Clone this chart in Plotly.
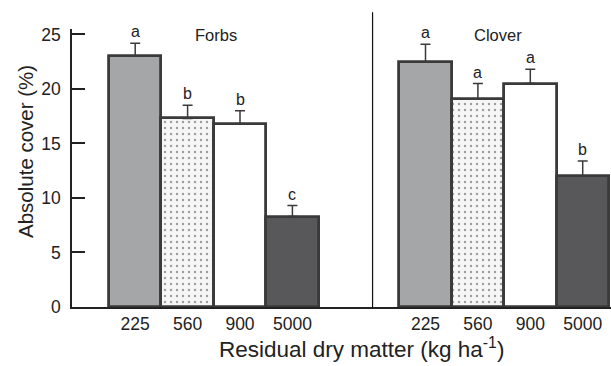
import plotly.graph_objects as go

categories = ["225", "560", "900", "5000"]
groups = ["Forbs", "Clover"]
forbs_values = [23.0, 17.3, 16.8, 8.3]
forbs_errors = [1.2, 1.2, 1.2, 1.0]
forbs_letters = ["a", "b", "b", "c"]
clover_values = [22.5, 19.1, 20.5, 12.0]
clover_errors = [1.6, 1.4, 1.3, 1.4]
clover_letters = ["a", "a", "a", "b"]

fills = ["#a5a6a8", "#f6f6f6", "#ffffff", "#58585a"]
patterns = ["", ".", "", ""]
outline = "#3a3a3a"

group_offsets = [1.0, 6.54]
title_shift = [0.55, 0.38]
group_values = [forbs_values, clover_values]
group_errors = [forbs_errors, clover_errors]
group_letters = [forbs_letters, clover_letters]

W, H = 611, 366
ML, MR, MT, MB = 72, 0, 29, 59

fig = go.Figure()
tickvals, ticktext = [], []
annotations = []
for g, name in enumerate(groups):
    xs = [group_offsets[g] + i for i in range(len(categories))]
    vals = group_values[g]
    errs = group_errors[g]
    fig.add_trace(go.Bar(
        x=xs, y=vals, width=1.0,
        marker=dict(color=fills, line=dict(color=outline, width=2.8),
                    pattern=dict(shape=patterns, fgcolor="#c4c4c4", bgcolor="#f9f9f9",
                                 size=6, solidity=0.12)),
        error_y=dict(type="data", symmetric=False, array=errs,
                     arrayminus=[0] * len(errs), color=outline, thickness=1.5, width=5),
        showlegend=False,
    ))
    tickvals += xs
    ticktext += categories
    for x, v, e, l in zip(xs, vals, errs, group_letters[g]):
        annotations.append(dict(x=x, y=v + e, text=l, showarrow=False, yanchor="bottom",
                                yshift=1, font=dict(size=16, color="#222")))
    annotations.append(dict(x=xs[1] + title_shift[g], y=25.0, text=name, showarrow=False,
                            yanchor="middle", yshift=-1, font=dict(size=16.5, color="#222")))

# axis titles placed as paper annotations
pw, ph = W - ML - MR, H - MT - MB
annotations.append(dict(xref="paper", yref="paper", x=(361 - ML) / pw, y=(H - MB - 348) / ph,
                        text="Residual dry matter (kg ha<sup>-1</sup>)", showarrow=False,
                        xanchor="center", yanchor="middle", font=dict(size=22.5, color="#222")))
annotations.append(dict(xref="paper", yref="paper", x=(25 - ML) / pw, y=(H - MB - 152) / ph,
                        text="Absolute cover (%)", showarrow=False, textangle=-90,
                        xanchor="center", yanchor="middle", font=dict(size=20.5, color="#222")))

fig.update_layout(
    width=W, height=H,
    margin=dict(l=ML, r=MR, t=MT, b=MB),
    plot_bgcolor="white", paper_bgcolor="white",
    font=dict(family="Liberation Sans, Arial, sans-serif", color="#222"),
    bargap=0,
    annotations=annotations,
    shapes=[dict(type="line", xref="x", yref="paper", x0=5.53, x1=5.53, y0=0, y1=1.06,
                 line=dict(color="#111", width=1.2))],
)
fig.update_xaxes(range=[-0.206, 10.08], tickvals=tickvals, ticktext=ticktext,
                 showline=True, linecolor="#222", linewidth=1.5, ticks="",
                 showgrid=False, zeroline=False, tickfont=dict(size=17.5))
fig.update_yaxes(range=[0, 25.5], tickvals=[0, 5, 10, 15, 20, 25],
                 showline=True, linecolor="#222", linewidth=1.5,
                 ticks="inside", ticklen=13, tickcolor="#222", tickwidth=1.5,
                 showgrid=False, zeroline=False, tickfont=dict(size=17.5),
                 ticklabelstandoff=6)

fig.write_html("out.html")
